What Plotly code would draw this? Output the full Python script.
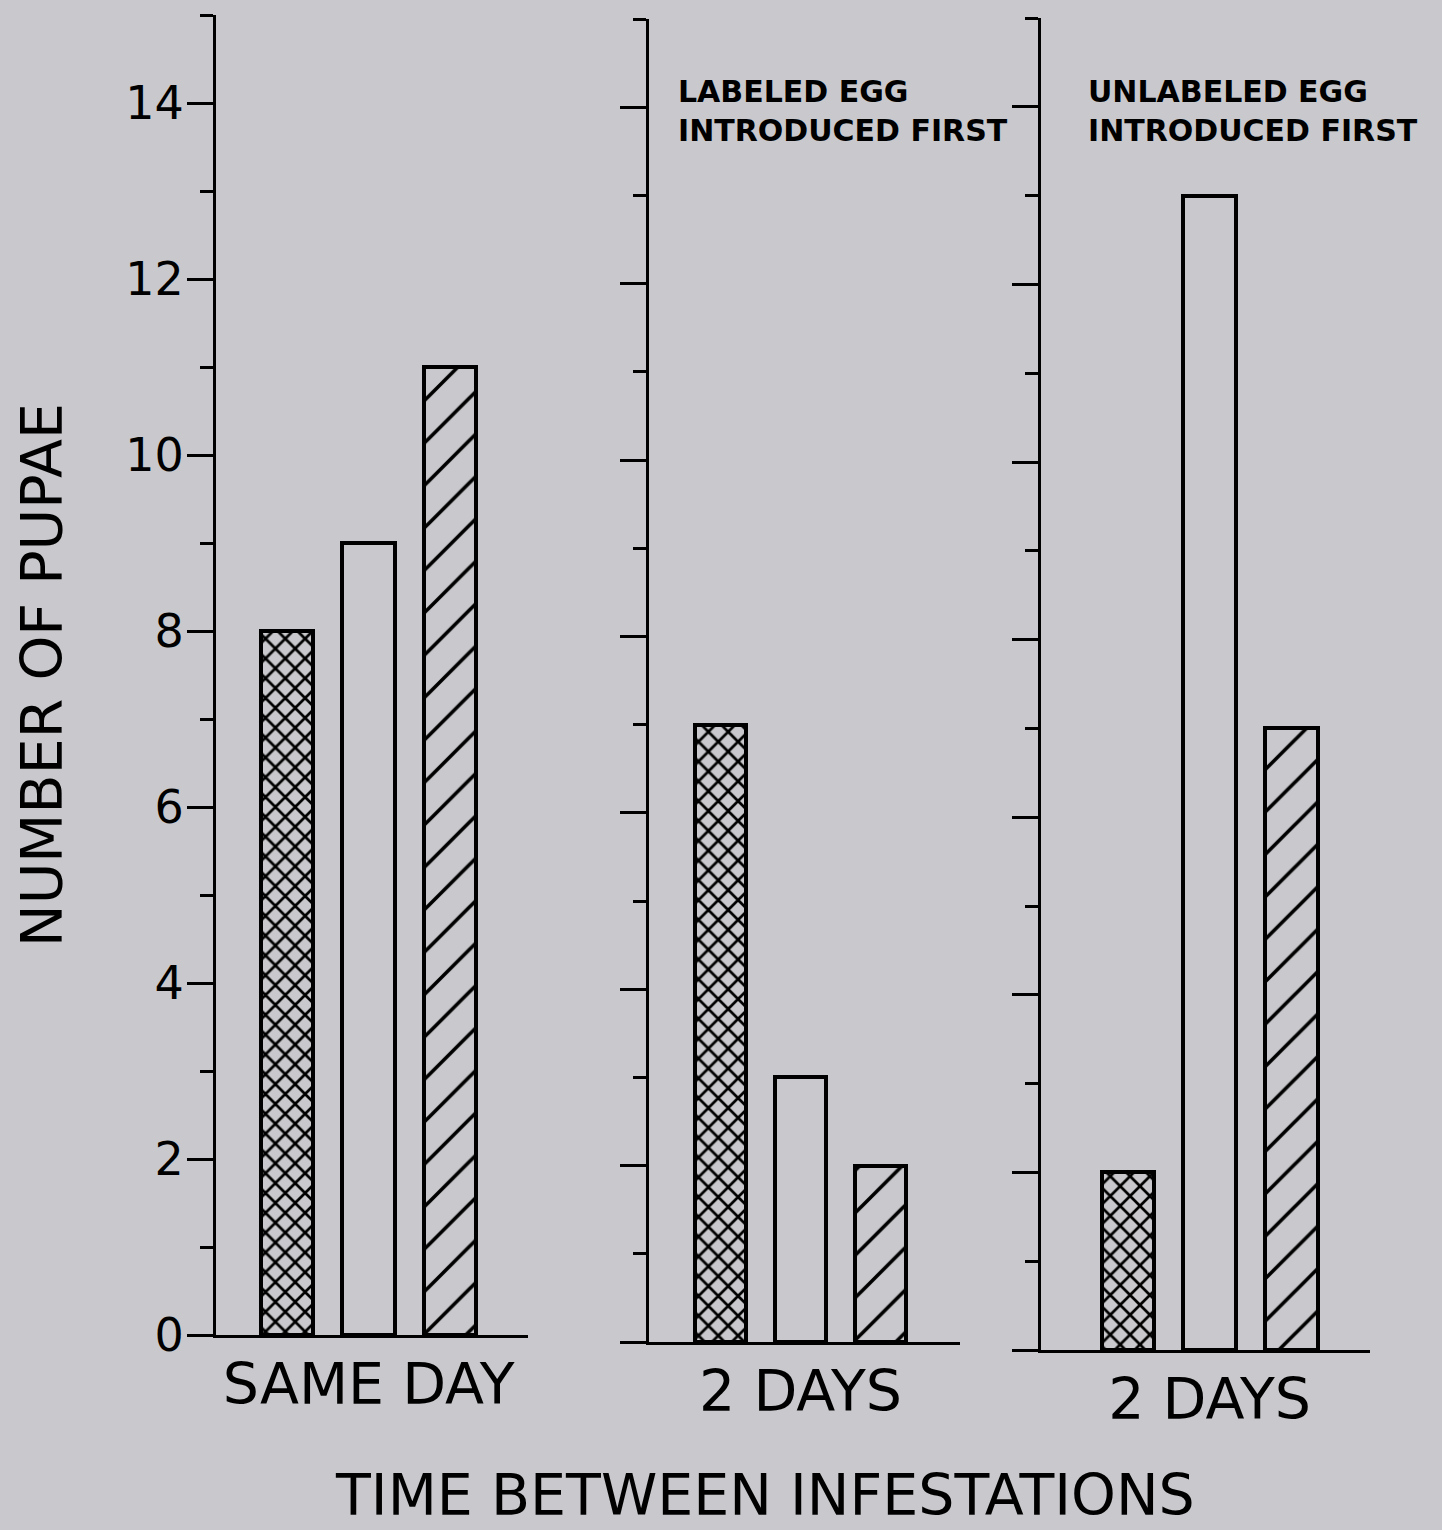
import plotly.graph_objects as go

# ---- data ----
panel_labels = ["SAME DAY", "2 DAYS", "2 DAYS"]
panel_notes = ["", "LABELED EGG<br>INTRODUCED FIRST", "UNLABELED EGG<br>INTRODUCED FIRST"]
series_patterns = ["x", "", "/"]          # crosshatched, open, diagonal
panel1_values = [8, 9, 11]
panel2_values = [7, 3, 2]
panel3_values = [2, 13, 7]
panels_values = [panel1_values, panel2_values, panel3_values]
y_major_ticks = [0, 2, 4, 6, 8, 10, 12, 14]
y_tick_labels = ["0", "2", "4", "6", "8", "10", "12", "14"]
y_title = "NUMBER OF PUPAE"
x_title = "TIME BETWEEN INFESTATIONS"

BG = "#c9c9cd"
W, H = 1442, 1530
FONT = "DejaVu Sans"

# layout geometry (pixels)
x_dom_px = [(216, 528), (649, 960), (1041, 1370)]
y_dom_px = [(1335, 15), (1342, 19), (1350, 18)]
x_ranges = [(-0.866, 2.95), (-0.9, 3.0), (-1.06, 2.96)]
note_pos = [None, (676, 72), (1086, 72)]

fig = go.Figure()
for p, vals in enumerate(panels_values):
    ax = "" if p == 0 else str(p + 1)
    for i, v in enumerate(vals):
        shape = series_patterns[i]
        fig.add_trace(go.Bar(
            x=[i], y=[v], width=0.64,
            xaxis="x" + ax, yaxis="y" + ax,
            marker=dict(
                color=BG,
                line=dict(color="black", width=4),
                pattern=dict(shape=shape, fgcolor="black", bgcolor=BG,
                             size=(14 if shape == "x" else 30),
                             solidity=(0.35 if shape == "x" else 0.12),
                             fillmode="replace"),
            ),
            showlegend=False, hoverinfo="skip",
        ))
    x0, x1 = x_dom_px[p]
    yb, yt = y_dom_px[p]
    fig.layout["xaxis" + ax] = dict(
        domain=[x0 / W, x1 / W], range=list(x_ranges[p]), automargin=False,
        anchor="y" + ax, showline=True, linecolor="black", linewidth=3,
        showgrid=False, zeroline=False, ticks="", tickvals=[1],
        ticktext=[panel_labels[p]], ticklabelstandoff=-2,
        tickfont=dict(family=FONT, size=57, color="black"),
    )
    fig.layout["yaxis" + ax] = dict(
        domain=[1 - yb / H, 1 - yt / H], range=[0, 15], automargin=False,
        anchor="x" + ax, showline=True, linecolor="black", linewidth=3,
        showgrid=False, zeroline=False,
        ticks="outside", ticklen=26, tickwidth=3, tickcolor="black",
        tickvals=y_major_ticks, ticktext=y_tick_labels,
        showticklabels=(p == 0), ticklabelstandoff=-6,
        tickfont=dict(family=FONT, size=46, color="black"),
        minor=dict(dtick=1, tick0=1, ticks="outside", ticklen=13,
                   tickwidth=3, tickcolor="black", showgrid=False),
    )
    if note_pos[p]:
        nx, ny = note_pos[p]
        fig.add_annotation(
            x=nx / W, y=1 - ny / H, xref="paper", yref="paper",
            xanchor="left", yanchor="top", align="left", showarrow=False,
            text="<b>" + panel_notes[p].replace("<br>", "</b><br><b>") + "</b>",
            font=dict(family=FONT, size=30, color="black"),
        )

fig.add_annotation(x=765 / W, y=1 - 1495 / H, xref="paper", yref="paper",
                   xanchor="center", yanchor="middle", showarrow=False,
                   text=x_title, font=dict(family=FONT, size=57, color="black"))
fig.add_annotation(x=42 / W, y=1 - 675 / H, xref="paper", yref="paper",
                   xanchor="center", yanchor="middle", showarrow=False,
                   textangle=-90,
                   text=y_title, font=dict(family=FONT, size=57, color="black"))

fig.update_layout(
    width=W, height=H, margin=dict(l=0, r=0, t=0, b=0, autoexpand=False),
    paper_bgcolor=BG, plot_bgcolor=BG, bargap=0,
)
fig.write_html("out.html")
